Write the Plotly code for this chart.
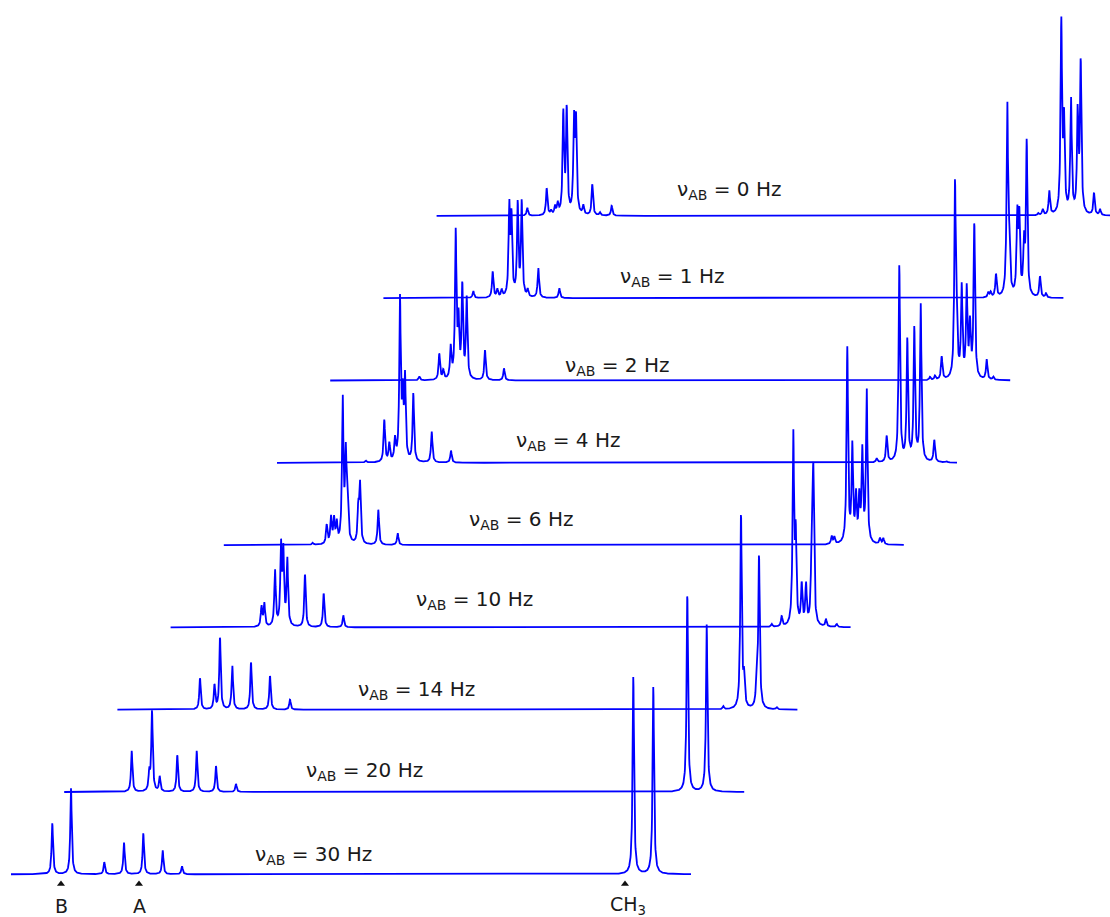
import numpy as np
import plotly.graph_objects as go

# nu_AB values (Hz), bottom to top
NU_AB = [30, 20, 14, 10, 6, 4, 2, 1, 0]

# Line positions (frequency units from the left end of each trace) and heights
POS_30 = [41.3, 60.0, 93.3, 113.0, 132.3, 151.7, 171.0, 622.3, 642.3]
H_30 = [51, 86, 12, 31.5, 41, 24, 8, 197.6, 187.6]

POS_20 = [67.5, 85.1, 87.8, 95.5, 113.1, 132.5, 151.8, 171.8, 623.1, 642.5]
H_20 = [41, 18, 80, 15, 37, 41, 26, 8, 198, 167]

POS_14 = [82.6, 97.1, 102.6, 114.9, 133.6, 152.6, 172.6, 605.9, 623.6, 626.6, 639.3, 641.6, 659.3]
H_14 = [31.6, 24, 72, 44, 47.6, 34, 10, 3, 195, 28, 28, 152, 2]

POS_10 = [90.9, 93.7, 104.4, 110.4, 112.7, 116.7, 134.4, 153.1, 172.7,
          601.1, 611.1, 622.7, 625.1, 631.1, 635.4, 641.1, 642.7, 655.4, 666.1]
H_10 = [20, 23, 56, 78, 72, 66, 53, 34, 12,
        3, 10, 188, 85, 40, 40, 70, 150, 7, 3]

POS_6 = [88.9, 102.9, 107.2, 110.2, 112.9, 118.9, 121.9, 123.5, 134.5, 136.2, 154.5, 173.9,
         607.9, 610.5, 623.5, 628.5, 632.2, 635.5, 638.5, 642.9, 656.2, 659.5]
H_6 = [2, 19, 26, 24, 20, 143, 80, 55, 34, 58, 35, 12,
       8, 7, 195, 95, 45, 43, 90, 154, 6, 6]

POS_4 = [88.7, 107.3, 112.3, 118.0, 123.0, 125.7, 128.0, 136.3, 154.7, 174.0,
         599.7, 609.7, 622.3, 630.3, 637.3, 643.7, 657.3, 669.7]
H_4 = [2, 42, 18, 21, 160, 60, 80, 68, 31, 12,
       4, 26, 196, 121, 132, 157, 22, 1]

POS_2 = [89.1, 109.1, 113.1, 120.5, 125.5, 128.3, 132.1, 136.5, 154.8, 173.8,
         599.8, 604.8, 611.5, 624.8, 626.5, 631.5, 636.5, 639.8, 644.1, 656.5, 663.1]
H_2 = [4, 26, 9, 31, 145, 55, 92, 80, 30, 12,
       3, 4, 23, 190, 50, 90, 88, 52, 155, 20, 3]

POS_1 = [89.9, 109.3, 113.9, 118.3, 125.9, 128.1, 134.3, 138.3, 144.3, 154.9, 175.9,
         604.9, 607.3, 612.6, 623.9, 625.9, 633.9, 635.9, 640.6, 643.3, 656.6, 662.6]
H_1 = [7, 26, 8, 7, 88, 76, 92, 94, 7, 30, 10,
       5, 5, 23, 190, 45, 78, 76, 50, 153, 21, 4]

POS_0 = [90.7, 110.1, 114.4, 118.4, 121.1, 126.7, 130.1, 137.4, 139.4, 146.7, 155.7, 163.4, 175.1,
         601.7, 606.1, 612.7, 624.7, 627.4, 634.4, 641.1, 644.1, 657.4, 663.4]
H_0 = [8, 27, 4, 8, 11, 100, 104, 90, 90, 9, 31, 3, 10,
       2, 6, 24, 190, 90, 115, 100, 150, 22, 6]

PEAKS = {30: (POS_30, H_30), 20: (POS_20, H_20), 14: (POS_14, H_14), 10: (POS_10, H_10),
         6: (POS_6, H_6), 4: (POS_4, H_4), 2: (POS_2, H_2), 1: (POS_1, H_1), 0: (POS_0, H_0)}

# marker labels under the bottom trace
MARK_LABELS = ["B", "A", "CH<sub>3</sub>"]
MARK_POS = [50, 128, 614]

# ---- layout constants ----
SPAN = 680.0         # width of each trace
DX, DY = 53.2, 82.3  # stacking offsets
GAMMA = 0.85         # line half-width
LABEL_X = [242, 240, 239, 243, 243, 237, 233, 235, 238]
LABEL_DY = [19, 21, 20, 27, 25, 22, 15, 21, 26]
BLUE = "#0000ff"
FONT = "DejaVu Sans, Arial, sans-serif"

fig = go.Figure()
grid = np.arange(0, SPAN + 0.001, 0.25)

for i, nu in enumerate(NU_AB):
    pos, hts = PEAKS[nu]
    y = np.zeros_like(grid)
    for p, h in zip(pos, hts):
        y += h * GAMMA ** 2 / ((grid - p) ** 2 + GAMMA ** 2)
    fig.add_trace(go.Scatter(
        x=grid + DX * i, y=y + DY * i, mode="lines",
        line=dict(color=BLUE, width=1.8), hoverinfo="skip", showlegend=False))
    fig.add_annotation(
        x=LABEL_X[i] + DX * i, y=DY * i + LABEL_DY[i],
        text=f"ν<sub>AB</sub> = {nu} Hz", showarrow=False, xanchor="left", yanchor="middle",
        font=dict(family=FONT, size=20, color="#1a1a1a"))

fig.add_trace(go.Scatter(
    x=MARK_POS, y=[-9.7] * len(MARK_POS), mode="markers",
    marker=dict(symbol="triangle-up", size=7, color="#111"),
    hoverinfo="skip", showlegend=False))
for lab, p in zip(MARK_LABELS, MARK_POS):
    fig.add_annotation(
        x=p + (3 if lab.startswith("CH") else 0), y=-31.5, text=lab, showarrow=False,
        xanchor="center", yanchor="middle",
        font=dict(family=FONT, size=19, color="#1a1a1a"))

fig.update_layout(
    width=1110, height=917,
    margin=dict(l=0, r=0, t=0, b=0),
    paper_bgcolor="white", plot_bgcolor="white",
    xaxis=dict(range=[-11, 1099], visible=False, fixedrange=True),
    yaxis=dict(range=[-42.7, 874.3], visible=False, fixedrange=True),
)

fig.write_html(
    "out.html",
    config={"displayModeBar": False},
    post_script="document.body.style.margin='0';document.body.style.overflow='hidden';",
)
